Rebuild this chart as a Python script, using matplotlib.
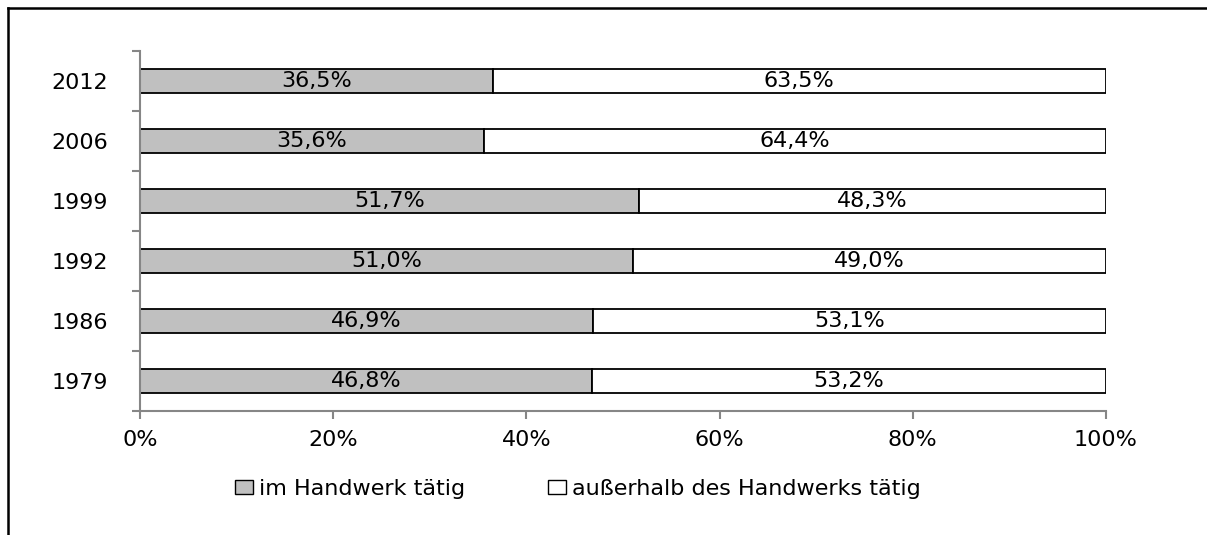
import numpy as np
import matplotlib
matplotlib.use("Agg")
from matplotlib import pyplot as plt
from matplotlib.lines import Line2D
from matplotlib.patches import Patch

years = ["1979", "1986", "1992", "1999", "2006", "2012"]
im_handwerk = [46.8, 46.9, 51.0, 51.7, 35.6, 36.5]
ausserhalb = [53.2, 53.1, 49.0, 48.3, 64.4, 63.5]
x_ticks = [0, 20, 40, 60, 80, 100]
x_labels = ["0%", "20%", "40%", "60%", "80%", "100%"]
legend_labels = ["im Handwerk tätig", "außerhalb des Handwerks tätig"]

plt.rcParams['font.family'] = ['DejaVu Sans']
W, H = 1207, 535
fig = plt.figure(figsize=(W / 100, H / 100), dpi=100)

def px(x0, y0, x1, y1):
    return [x0 / W, 1 - y1 / H, (x1 - x0) / W, (y1 - y0) / H]

# outer frame (only top and left edges fall inside the image)
fig.add_artist(Line2D([8 / W, 1], [1 - 8 / H, 1 - 8 / H], color="black", lw=1.8))
fig.add_artist(Line2D([8 / W, 8 / W], [0, 1 - 8 / H], color="black", lw=1.8))

ax = fig.add_axes(px(140, 51, 1106, 411))
y = np.arange(len(years))
ax.barh(y, im_handwerk, height=0.4, color="#c0c0c0", edgecolor="black", lw=1.3)
ax.barh(y, ausserhalb, left=im_handwerk, height=0.4, color="white", edgecolor="black", lw=1.3)

fs = 16
for i in range(len(years)):
    a, b = im_handwerk[i], ausserhalb[i]
    ax.text(a / 2, i, f"{a:.1f}%".replace(".", ","), ha="center", va="center", fontsize=fs)
    ax.text(a + b / 2, i, f"{b:.1f}%".replace(".", ","), ha="center", va="center", fontsize=fs)

ax.set_xlim(0, 100)
ax.set_ylim(-0.5, len(years) - 0.5)
ax.set_xticks(x_ticks)
ax.set_xticklabels(x_labels, fontsize=fs)
ax.set_yticks(y)
ax.set_yticklabels(years, fontsize=fs)
ax.set_yticks(np.arange(-0.5, len(years)), minor=True)
ax.tick_params(axis="y", which="major", length=0, pad=23)
ax.tick_params(axis="y", which="minor", length=6, color="#868686", width=1.5)
ax.tick_params(axis="x", length=6, color="#868686", width=1.5, pad=8)
for s in ["top", "right"]:
    ax.spines[s].set_visible(False)
for s in ["left", "bottom"]:
    ax.spines[s].set_color("#868686")
    ax.spines[s].set_linewidth(1.5)

handles = [Patch(facecolor="#c0c0c0", edgecolor="black", lw=1.0),
           Patch(facecolor="white", edgecolor="black", lw=1.0)]
fig.legend(handles, legend_labels, loc="center", bbox_to_anchor=(578 / W, 1 - 489 / H),
           ncol=2, frameon=False, handlelength=0.8, handleheight=0.55,
           handletextpad=0.3, columnspacing=3.7, fontsize=fs)

fig.savefig("out.png", dpi=100)
